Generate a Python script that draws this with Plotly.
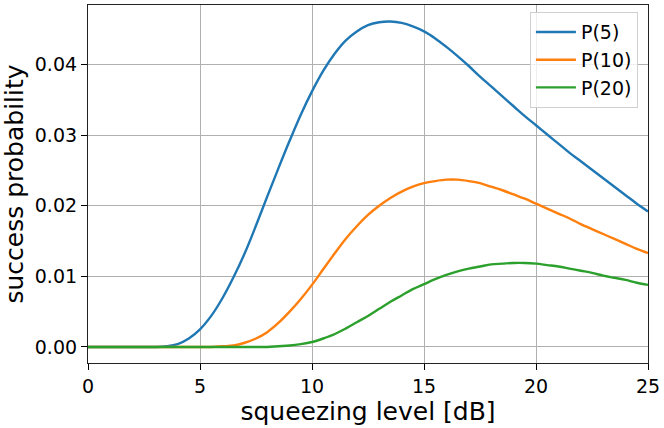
import plotly.graph_objects as go

squeezing_db = [i * 0.5 for i in range(0, 51)]

p5 = [0.0, 0.0, 0.0, 0.0, 0.0, 0.0, 0.0, 0.0001, 0.0004, 0.0012,
      0.0025, 0.0044, 0.0069, 0.0099, 0.0133, 0.0172, 0.0213, 0.0253, 0.0292, 0.0329,
      0.0362, 0.0391, 0.0415, 0.0434, 0.0447, 0.0456, 0.0460, 0.0461, 0.0459, 0.0454,
      0.0447, 0.0437, 0.0425, 0.0412, 0.0398, 0.0383, 0.0369, 0.0355, 0.0341, 0.0327,
      0.0314, 0.0301, 0.0288, 0.0275, 0.0263, 0.0251, 0.0239, 0.0227, 0.0215, 0.0203,
      0.0192]

p10 = [0.0, 0.0, 0.0, 0.0, 0.0, 0.0, 0.0, 0.0, 0.0, 0.0,
       0.0, 0.0, 0.0001, 0.0002, 0.0006, 0.0012, 0.0021, 0.0034, 0.0050, 0.0068,
       0.0088, 0.0110, 0.0132, 0.0153, 0.0171, 0.0187, 0.0200, 0.0211, 0.0220, 0.0227,
       0.0232, 0.0235, 0.0237, 0.0237, 0.0235, 0.0232, 0.0227, 0.0222, 0.0216, 0.0210,
       0.0203, 0.0196, 0.0189, 0.0182, 0.0174, 0.0167, 0.0160, 0.0153, 0.0146, 0.0139,
       0.0133]

p20 = [0.0, 0.0, 0.0, 0.0, 0.0, 0.0, 0.0, 0.0, 0.0, 0.0,
       0.0, 0.0, 0.0, 0.0, 0.0, 0.0, 0.0, 0.0001, 0.0002, 0.0004,
       0.0007, 0.0012, 0.0018, 0.0026, 0.0035, 0.0044, 0.0054, 0.0064, 0.0073, 0.0082,
       0.0089, 0.0096, 0.0102, 0.0107, 0.0111, 0.0114, 0.0117, 0.0118, 0.0119, 0.0119,
       0.0118, 0.0116, 0.0114, 0.0111, 0.0108, 0.0105, 0.0101, 0.0098, 0.0095, 0.0091,
       0.0088]

series_names = ["P(5)", "P(10)", "P(20)"]
series_colors = ["#1f77b4", "#ff7f0e", "#2ca02c"]

x_ticks = [0, 5, 10, 15, 20, 25]
y_ticks = [0.00, 0.01, 0.02, 0.03, 0.04]
y_tick_labels = ["0.00", "0.01", "0.02", "0.03", "0.04"]

fig = go.Figure()
for name, vals, col in zip(series_names, [p5, p10, p20], series_colors):
    fig.add_trace(go.Scatter(
        x=squeezing_db, y=vals, name=name, mode="lines",
        line=dict(color=col, width=2.4, shape="spline", smoothing=1.0),
    ))

font_family = "DejaVu Sans"
fig.update_layout(
    width=664, height=428,
    margin=dict(l=88, r=16, t=5, b=65),
    paper_bgcolor="white", plot_bgcolor="white",
    font=dict(family=font_family, size=19, color="#000000"),
    showlegend=True,
    legend=dict(
        x=0.982, y=0.98, xanchor="right", yanchor="top",
        bgcolor="rgba(255,255,255,0.8)", bordercolor="#d0d0d0", borderwidth=1,
        font=dict(family=font_family, size=19, color="#000000"),
        itemwidth=40, tracegroupgap=0,
    ),
    xaxis=dict(
        range=[0, 25], tickmode="array", tickvals=x_ticks,
        ticks="outside", ticklen=6, tickcolor="#000000", tickwidth=1,
        showline=True, linecolor="#222222", linewidth=1.2, mirror=True,
        showgrid=True, gridcolor="#b0b0b0", gridwidth=1, zeroline=False,
        tickfont=dict(size=19),
        title=dict(text="squeezing level [dB]", font=dict(size=25), standoff=4),
    ),
    yaxis=dict(
        range=[-0.00227, 0.04844], tickmode="array", tickvals=y_ticks,
        ticktext=y_tick_labels,
        ticks="outside", ticklen=6, tickcolor="#000000", tickwidth=1,
        showline=True, linecolor="#222222", linewidth=1.2, mirror=True,
        showgrid=True, gridcolor="#b0b0b0", gridwidth=1, zeroline=False,
        tickfont=dict(size=19),
        title=dict(text="success probability", font=dict(size=25), standoff=6),
    ),
)

fig.write_html("out.html", config={"displayModeBar": False},
               post_script="document.body.style.margin='0';")
